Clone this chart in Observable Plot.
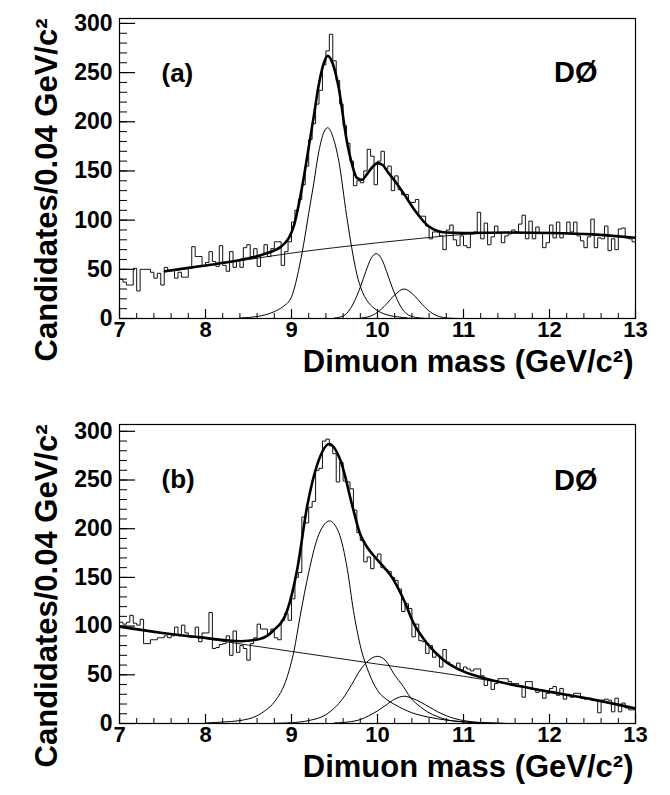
<!DOCTYPE html>
<html><head><meta charset="utf-8">
<script src="https://cdn.jsdelivr.net/npm/d3@7"></script>
<script src="https://cdn.jsdelivr.net/npm/@observablehq/plot@0.6"></script>
<style>
body{margin:0;background:#fff;}
#chart{width:670px;height:795px;overflow:hidden;}
svg{display:block}
</style></head><body><div id="chart"></div>
<script>
// ---- data ----
const binStart = 7, binWidth = 0.04;
const xTicks = [7, 8, 9, 10, 11, 12, 13];
const yTicks = [0, 50, 100, 150, 200, 250, 300];
const xMinor = d3.range(70, 131, 2).map(v => v / 10);
const yMinor = d3.range(0, 301, 10);

const countsA = [
  40, 37, 34, 34, 51, 28, 50, 50, 50, 47,
  41, 46, 34, 52, 49, 49, 41, 47, 42, 42,
  51, 73, 63, 63, 54, 57, 68, 58, 53, 74,
  54, 48, 68, 52, 59, 52, 72, 75, 63, 71,
  53, 65, 75, 63, 71, 78, 78, 54, 68, 78,
  98, 110, 121, 136, 155, 182, 198, 218, 232, 258,
  272, 289, 262, 242, 218, 196, 178, 160, 135, 140,
  138, 150, 172, 165, 136, 160, 170, 152, 155, 130,
  145, 131, 126, 126, 118, 118, 121, 104, 104, 94,
  81, 88, 88, 84, 70, 90, 95, 80, 74, 84,
  74, 72, 86, 88, 108, 81, 97, 75, 83, 94,
  87, 77, 84, 86, 90, 88, 96, 105, 81, 99,
  81, 93, 87, 72, 77, 95, 82, 98, 82, 87,
  98, 88, 98, 84, 79, 72, 83, 101, 72, 82,
  81, 94, 69, 81, 70, 91, 92, 82, 81, 78
];
const countsB = [
  104, 102, 104, 111, 103, 101, 107, 82, 82, 86,
  86, 88, 88, 90, 88, 90, 99, 90, 101, 93,
  89, 89, 99, 84, 93, 93, 114, 77, 78, 81,
  82, 90, 70, 95, 73, 80, 77, 65, 82, 88,
  102, 97, 97, 92, 97, 88, 86, 106, 113, 106,
  128, 150, 155, 212, 206, 222, 228, 260, 262, 290,
  292, 285, 277, 248, 268, 249, 248, 241, 219, 196,
  188, 166, 171, 159, 171, 174, 160, 158, 156, 150,
  147, 138, 115, 123, 118, 89, 102, 85, 84, 72,
  80, 68, 70, 58, 76, 63, 60, 58, 62, 55,
  58, 56, 54, 56, 56, 49, 39, 44, 35, 41,
  46, 46, 46, 43, 41, 41, 39, 27, 43, 43,
  36, 32, 34, 26, 31, 36, 38, 29, 36, 25,
  30, 27, 31, 31, 26, 25, 26, 24, 24, 11,
  24, 25, 24, 12, 26, 12, 21, 16, 14, 14
];

// fit curves, read as [mass, count] points
const fitA = [[7.53,48],[7.8,51.5],[8.12,55.5],[8.4,59.5],[8.7,66],[8.89,74],[8.97,82],[9.03,95],[9.08,114],[9.14,142],[9.2,174],[9.26,206],[9.31,234],[9.37,258],[9.42,267],[9.48,259],[9.55,234],[9.64,182],[9.7,158],[9.76,143],[9.82,141],[9.88,147],[9.94,154],[10.0,158],[10.06,156],[10.12,149],[10.2,140],[10.32,125],[10.45,108],[10.59,94],[10.7,89],[10.8,87.5],[11.0,87],[11.5,87.5],[12.0,87],[12.5,85.5],[13.0,82]];
const bgA = [[7.53,47.5],[8.0,53.5],[8.5,60],[9.0,66.5],[9.5,72],[10.0,77],[10.5,81.5],[11.0,85.5],[11.5,87.5],[12.0,87.5],[12.5,85.5],[13.0,82]];
const ups1A = [[8.4,0.5],[8.6,2],[8.8,7],[8.9,12],[9.0,22],[9.08,48],[9.14,75],[9.2,107],[9.26,138],[9.31,166],[9.37,188],[9.42,194],[9.48,185],[9.55,160],[9.64,105],[9.7,72],[9.76,45],[9.82,28],[9.88,18],[9.94,12],[10.0,8],[10.1,4],[10.2,2],[10.3,1],[10.4,0]];
const ups2A = [[9.5,0.5],[9.6,2.5],[9.685,10],[9.76,23],[9.805,33],[9.865,48],[9.925,61],[9.985,66],[10.045,61],[10.105,48],[10.165,33],[10.21,23],[10.285,10],[10.385,2.5],[10.5,0.5],[10.6,0]];
const ups3A = [[9.8,0.3],[9.9,1.9],[10.0,6.3],[10.1,14.3],[10.2,24],[10.31,30],[10.42,24],[10.52,14.3],[10.62,6.3],[10.72,1.9],[10.82,0.4],[10.95,0]];

const fitB = [[7.0,99.5],[7.5,93],[7.94,88.5],[8.41,84.5],[8.64,87],[8.79,95.5],[8.95,116],[9.07,160],[9.18,222],[9.3,266],[9.44,287],[9.57,270],[9.72,219],[9.8,194],[9.88,181],[9.95,173],[10.03,165],[10.19,147],[10.31,126],[10.42,103],[10.58,82],[10.77,65],[10.97,54.5],[11.2,47.5],[11.66,38.2],[12.13,30.5],[12.51,24.5],[13.0,15.5]];
const bgB = [[7.0,99.5],[7.5,93],[8.0,87],[8.5,80.5],[9.0,74],[9.5,67.5],[10.0,61],[10.5,55],[11.0,48.5],[11.5,41],[12.0,33],[12.5,24.5],[13.0,15]];
const ups1B = [[8.0,0.5],[8.2,1.5],[8.4,3],[8.6,8],[8.7,13.6],[8.8,22],[8.95,48],[9.03,75],[9.1,110],[9.2,155],[9.3,190],[9.37,203],[9.44,208],[9.55,196],[9.65,158],[9.72,116],[9.8,80],[9.9,52],[10.0,34],[10.1,25],[10.19,20],[10.4,11],[10.58,6.8],[10.8,3.5],[10.97,2],[11.2,0.8],[11.5,0]];
const ups2B = [[8.8,0.2],[9.0,0.8],[9.2,3],[9.4,9],[9.5,16],[9.6,26],[9.7,40],[9.8,55],[9.9,65],[10.0,69],[10.1,64],[10.19,51],[10.3,38],[10.38,27],[10.5,17],[10.58,12],[10.7,7],[10.8,4],[11.0,1.5],[11.2,0.5],[11.5,0]];
const ups3B = [[9.5,0.5],[9.7,2],[9.8,4],[9.9,8],[10.0,13],[10.1,19],[10.2,25],[10.31,28],[10.4,26],[10.5,22],[10.6,17],[10.7,12],[10.8,8],[10.9,5],[11.0,3],[11.2,1],[11.4,0.3],[11.5,0]];

const xTitle = "Dimuon mass (GeV/c²)";
const yTitle = "Candidates/0.04 GeV/c²";
const expLabel = "DØ";

// ---- drawing ----
const FONT = "'Liberation Sans', Arial, Helvetica, sans-serif";
const W = 670, ML = 119, MR = 35, PW = W - ML - MR;

function histPoints(counts) {
  const pts = counts.map((c, i) => ({x: binStart + binWidth * i, y: c}));
  pts.push({x: binStart + binWidth * counts.length, y: counts[counts.length - 1]});
  return pts;
}
function curve(data, sw) {
  return Plot.line(data, {x: d => d[0], y: d => d[1], curve: "monotone-x", stroke: "#000", strokeWidth: sw, clip: true});
}

function panel({counts, fit, bg, g1, g2, g3, tag, yMax, height, marginTop, marginBottom, tagDy, expDy}) {
  const PH = height - marginTop - marginBottom;
  return Plot.plot({
    width: W, height, marginTop, marginBottom, marginLeft: ML, marginRight: MR,
    x: {domain: [7, 13], axis: null},
    y: {domain: [0, yMax], axis: null},
    style: {fontFamily: FONT, background: "white", color: "#000", overflow: "visible"},
    marks: [
      Plot.line(histPoints(counts), {x: "x", y: "y", curve: "step-after", stroke: "#111", strokeWidth: 1}),
      curve(bg, 0.9),
      curve(g1, 1),
      curve(g2, 1),
      curve(g3, 1),
      curve(fit, 2.6),
      Plot.frame({stroke: "#000", strokeWidth: 1.2}),
      Plot.ruleX(xMinor, {x: d => d, insetTop: PH - 5, stroke: "#000", strokeWidth: 1}),
      Plot.ruleX(xTicks, {x: d => d, insetTop: PH - 9, stroke: "#000", strokeWidth: 1.2}),
      Plot.ruleY(yMinor, {y: d => d, insetRight: PW - 8, stroke: "#000", strokeWidth: 1}),
      Plot.ruleY(yTicks, {y: d => d, insetRight: PW - 16, stroke: "#000", strokeWidth: 1.2}),
      Plot.text(xTicks, {x: d => d, text: d => String(d), frameAnchor: "bottom", lineAnchor: "top", dy: 3, fontSize: 22, fontWeight: "bold", fill: "#000"}),
      Plot.text(yTicks, {y: d => d, text: d => String(d), frameAnchor: "left", textAnchor: "end", dx: -7, fontSize: 23, fontWeight: "bold", fill: "#000"}),
      Plot.text([xTitle], {text: d => d, frameAnchor: "bottom-right", textAnchor: "end", dx: -2, dy: 53, fontSize: 31, fontWeight: "bold", fill: "#000"}),
      Plot.text([yTitle], {text: d => d, frameAnchor: "top-left", textAnchor: "end", rotate: -90, dx: -85, dy: 0, fontSize: 31, fontWeight: "bold", fill: "#000"}),
      Plot.text([tag], {text: d => d, frameAnchor: "top-left", textAnchor: "start", dx: 42, dy: tagDy, fontSize: 26, fontWeight: "bold", fill: "#000"}),
      Plot.text([expLabel], {text: d => d, frameAnchor: "top-right", textAnchor: "end", dx: -38, dy: expDy, fontSize: 29, fontWeight: "bold", fill: "#000"})
    ]
  });
}

const chart = document.getElementById("chart");
chart.append(panel({counts: countsA, fit: fitA, bg: bgA, g1: ups1A, g2: ups2A, g3: ups3A, tag: "(a)", yMax: 305, height: 400, marginTop: 18, marginBottom: 82, tagDy: 45, expDy: 43}));
chart.append(panel({counts: countsB, fit: fitB, bg: bgB, g1: ups1B, g2: ups2B, g3: ups3B, tag: "(b)", yMax: 307, height: 395, marginTop: 24, marginBottom: 72, tagDy: 45, expDy: 45}));
</script>
</body></html>
